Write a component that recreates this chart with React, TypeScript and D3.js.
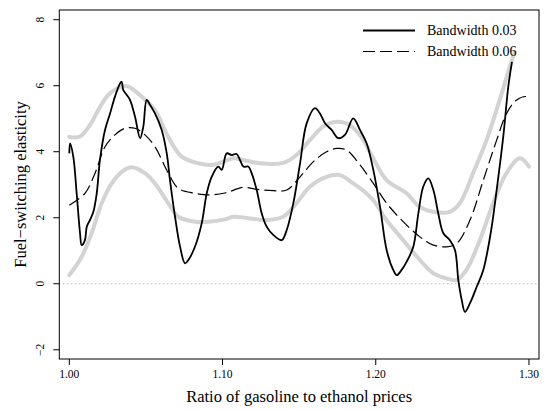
import React from "react";
import * as d3 from "d3";

// Bandwidth 0.03 (solid black)
const xBw03 = [1.0, 1.0005, 1.0026, 1.0048, 1.007, 1.0081, 1.0102, 1.0114, 1.0135, 1.0157, 1.0179, 1.02, 1.0233, 1.0266, 1.0298, 1.0331, 1.0342, 1.0352, 1.0375, 1.0396, 1.0429, 1.0462, 1.0483, 1.0505, 1.0527, 1.0559, 1.0603, 1.0636, 1.0657, 1.069, 1.0723, 1.0755, 1.0777, 1.082, 1.0864, 1.0897, 1.0929, 1.0972, 1.0995, 1.1027, 1.106, 1.1092, 1.1114, 1.1136, 1.1168, 1.119, 1.1223, 1.1256, 1.1288, 1.1331, 1.1386, 1.1419, 1.1462, 1.1506, 1.1549, 1.1603, 1.1636, 1.1669, 1.1712, 1.1756, 1.1799, 1.1853, 1.1897, 1.1941, 1.1984, 1.2028, 1.2071, 1.2114, 1.2137, 1.2169, 1.2202, 1.2245, 1.2278, 1.231, 1.2343, 1.2376, 1.2408, 1.2441, 1.2484, 1.2517, 1.2539, 1.2561, 1.2582, 1.2615, 1.2659, 1.2702, 1.275, 1.2789, 1.2832, 1.2865, 1.2889];
const yBw03 = [3.95, 4.25, 3.85, 2.74, 1.53, 1.17, 1.32, 1.73, 1.93, 2.18, 2.74, 3.75, 4.66, 5.16, 5.67, 6.07, 6.12, 5.87, 5.72, 5.57, 5.06, 4.41, 4.76, 5.57, 5.42, 5.16, 4.66, 3.95, 3.14, 2.03, 1.12, 0.62, 0.72, 1.12, 1.83, 2.74, 3.24, 3.55, 3.45, 3.95, 3.9, 3.93, 3.75, 3.55, 3.55, 3.35, 2.84, 2.13, 1.73, 1.48, 1.32, 1.63, 2.44, 3.65, 4.86, 5.32, 5.16, 4.86, 4.66, 4.41, 4.51, 5.01, 4.66, 4.25, 3.45, 2.33, 1.02, 0.42, 0.26, 0.42, 0.67, 1.12, 2.13, 2.94, 3.19, 2.84, 2.13, 1.53, 1.32, 1.02, 0.11, -0.49, -0.85, -0.59, -0.09, 0.42, 1.53, 2.84, 4.45, 5.97, 6.72];

// Bandwidth 0.06 (dashed black)
const xBw06 = [1.0, 1.0102, 1.0168, 1.0233, 1.0298, 1.0363, 1.0429, 1.0494, 1.0559, 1.0646, 1.0711, 1.082, 1.0907, 1.1016, 1.1136, 1.1223, 1.1331, 1.1419, 1.1506, 1.1593, 1.1679, 1.1745, 1.181, 1.1897, 1.1984, 1.2071, 1.2179, 1.2288, 1.2376, 1.2463, 1.2528, 1.2615, 1.2702, 1.2789, 1.2854, 1.292, 1.2985, 1.3];
const yBw06 = [2.38, 2.74, 3.35, 4.15, 4.51, 4.71, 4.71, 4.51, 4.15, 3.35, 2.89, 2.74, 2.69, 2.75, 2.92, 2.86, 2.82, 2.84, 3.24, 3.7, 4.0, 4.1, 4.05, 3.6, 3.04, 2.44, 1.88, 1.42, 1.17, 1.12, 1.22, 1.93, 3.14, 4.35, 5.16, 5.57, 5.67, 5.59];

// Upper confidence band (grey)
const xUpper = [1.0, 1.007, 1.0135, 1.0189, 1.0254, 1.0342, 1.0383, 1.0472, 1.0559, 1.0646, 1.0733, 1.0842, 1.0929, 1.1016, 1.107, 1.1135, 1.1244, 1.1396, 1.1483, 1.157, 1.1657, 1.1744, 1.1831, 1.1909, 1.1983, 1.207, 1.2201, 1.2287, 1.2374, 1.2483, 1.2549, 1.2635, 1.2723, 1.2809, 1.2875, 1.2907];
const yUpper = [4.45, 4.46, 4.81, 5.26, 5.72, 5.97, 5.98, 5.67, 5.26, 4.45, 3.85, 3.65, 3.6, 3.72, 3.8, 3.75, 3.65, 3.66, 3.9, 4.35, 4.76, 4.91, 4.81, 4.42, 3.81, 3.14, 2.74, 2.33, 2.18, 2.18, 2.44, 3.35, 4.35, 5.57, 6.58, 7.02];

// Lower confidence band (grey)
const xLower = [1.0, 1.0081, 1.0146, 1.0211, 1.0277, 1.0342, 1.0407, 1.0494, 1.0559, 1.0646, 1.0711, 1.082, 1.0907, 1.1016, 1.107, 1.1179, 1.1288, 1.1396, 1.1483, 1.157, 1.1679, 1.1766, 1.1853, 1.1929, 1.1983, 1.207, 1.2179, 1.2288, 1.2374, 1.2462, 1.2527, 1.2592, 1.2679, 1.2766, 1.2853, 1.294, 1.3];
const yLower = [0.26, 0.82, 1.53, 2.44, 3.04, 3.39, 3.53, 3.35, 3.04, 2.44, 2.03, 1.88, 1.88, 1.95, 2.03, 1.98, 1.93, 2.03, 2.44, 2.94, 3.24, 3.29, 3.04, 2.78, 2.54, 1.93, 1.32, 0.72, 0.32, 0.16, 0.11, 0.42, 1.32, 2.44, 3.35, 3.8, 3.55];

const xTicks = [1.0, 1.1, 1.2, 1.3];
const xTickLabels = ["1.00", "1.10", "1.20", "1.30"];
const yTicks = [-2, 0, 2, 4, 6, 8];
const legendLabels = ["Bandwidth 0.03", "Bandwidth 0.06"];
const xTitle = "Ratio of gasoline to ethanol prices";
const yTitle = "Fuel\u2212switching elasticity";

const FONT = "'Liberation Serif', 'Times New Roman', Times, serif";

export default function App() {
  const W = 546, H = 410;
  const left = 59.3, right = 539, top = 10, bottom = 359;
  const x = d3.scaleLinear().domain([0.99347, 1.30654]).range([left, right]);
  const y = d3.scaleLinear().domain([-2.28, 8.294]).range([bottom, top]);

  const mk = (xs: number[], ys: number[]) =>
    d3
      .line<number>()
      .x((_, i) => x(xs[i]))
      .y((d) => y(d))
      .curve(d3.curveCatmullRom.alpha(0.5))(ys) || "";

  return (
    <svg width={W} height={H} style={{ position: "absolute", left: 0, top: 0, background: "#fff" }}>
      <defs>
        <clipPath id="plotclip">
          <rect x={left} y={top} width={right - left} height={bottom - top} />
        </clipPath>
      </defs>
      <rect x={0} y={0} width={W} height={H} fill="#fff" />
      <g clipPath="url(#plotclip)">
        <line x1={left} x2={right} y1={y(0)} y2={y(0)} stroke="#999" strokeWidth={1} strokeDasharray="1,3" />
        <path d={mk(xUpper, yUpper)} fill="none" stroke="#d3d3d3" strokeWidth={4} strokeLinejoin="round" strokeLinecap="round" />
        <path d={mk(xLower, yLower)} fill="none" stroke="#d3d3d3" strokeWidth={4} strokeLinejoin="round" strokeLinecap="round" />
        <path d={mk(xBw06, yBw06)} fill="none" stroke="#000" strokeWidth={1.2} strokeDasharray="12,5" />
        <path d={mk(xBw03, yBw03)} fill="none" stroke="#000" strokeWidth={1.8} strokeLinejoin="round" />
      </g>
      <rect x={left} y={top} width={right - left} height={bottom - top} fill="none" stroke="#000" strokeWidth={1} />
      {xTicks.map((t, i) => (
        <g key={"xt" + i}>
          <line x1={x(t)} x2={x(t)} y1={bottom} y2={bottom + 6} stroke="#000" />
          <text x={x(t)} y={378} textAnchor="middle" fontFamily={FONT} fontSize={11.5} fill="#000">
            {xTickLabels[i]}
          </text>
        </g>
      ))}
      {yTicks.map((t, i) => (
        <g key={"yt" + i}>
          <line x1={left - 6} x2={left} y1={y(t)} y2={y(t)} stroke="#000" />
          <text
            transform={`translate(44,${y(t)}) rotate(-90)`}
            textAnchor="middle"
            fontFamily={FONT}
            fontSize={11.5}
            fill="#000"
          >
            {t < 0 ? "\u2212" + Math.abs(t) : String(t)}
          </text>
        </g>
      ))}
      <text x={(left + right) / 2} y={402} textAnchor="middle" fontFamily={FONT} fontSize={16.5} fill="#000">
        {xTitle}
      </text>
      <text
        transform={`translate(26,${(top + bottom) / 2}) rotate(-90)`}
        textAnchor="middle"
        fontFamily={FONT}
        fontSize={16.5}
        fill="#000"
      >
        {yTitle}
      </text>
      <g>
        <line x1={363} x2={415} y1={30.5} y2={30.5} stroke="#000" strokeWidth={1.8} />
        <line x1={363} x2={415} y1={51.5} y2={51.5} stroke="#000" strokeWidth={1.2} strokeDasharray="12,5" />
        <text x={427} y={35} fontFamily={FONT} fontSize={14} fill="#000">{legendLabels[0]}</text>
        <text x={427} y={56} fontFamily={FONT} fontSize={14} fill="#000">{legendLabels[1]}</text>
      </g>
    </svg>
  );
}
